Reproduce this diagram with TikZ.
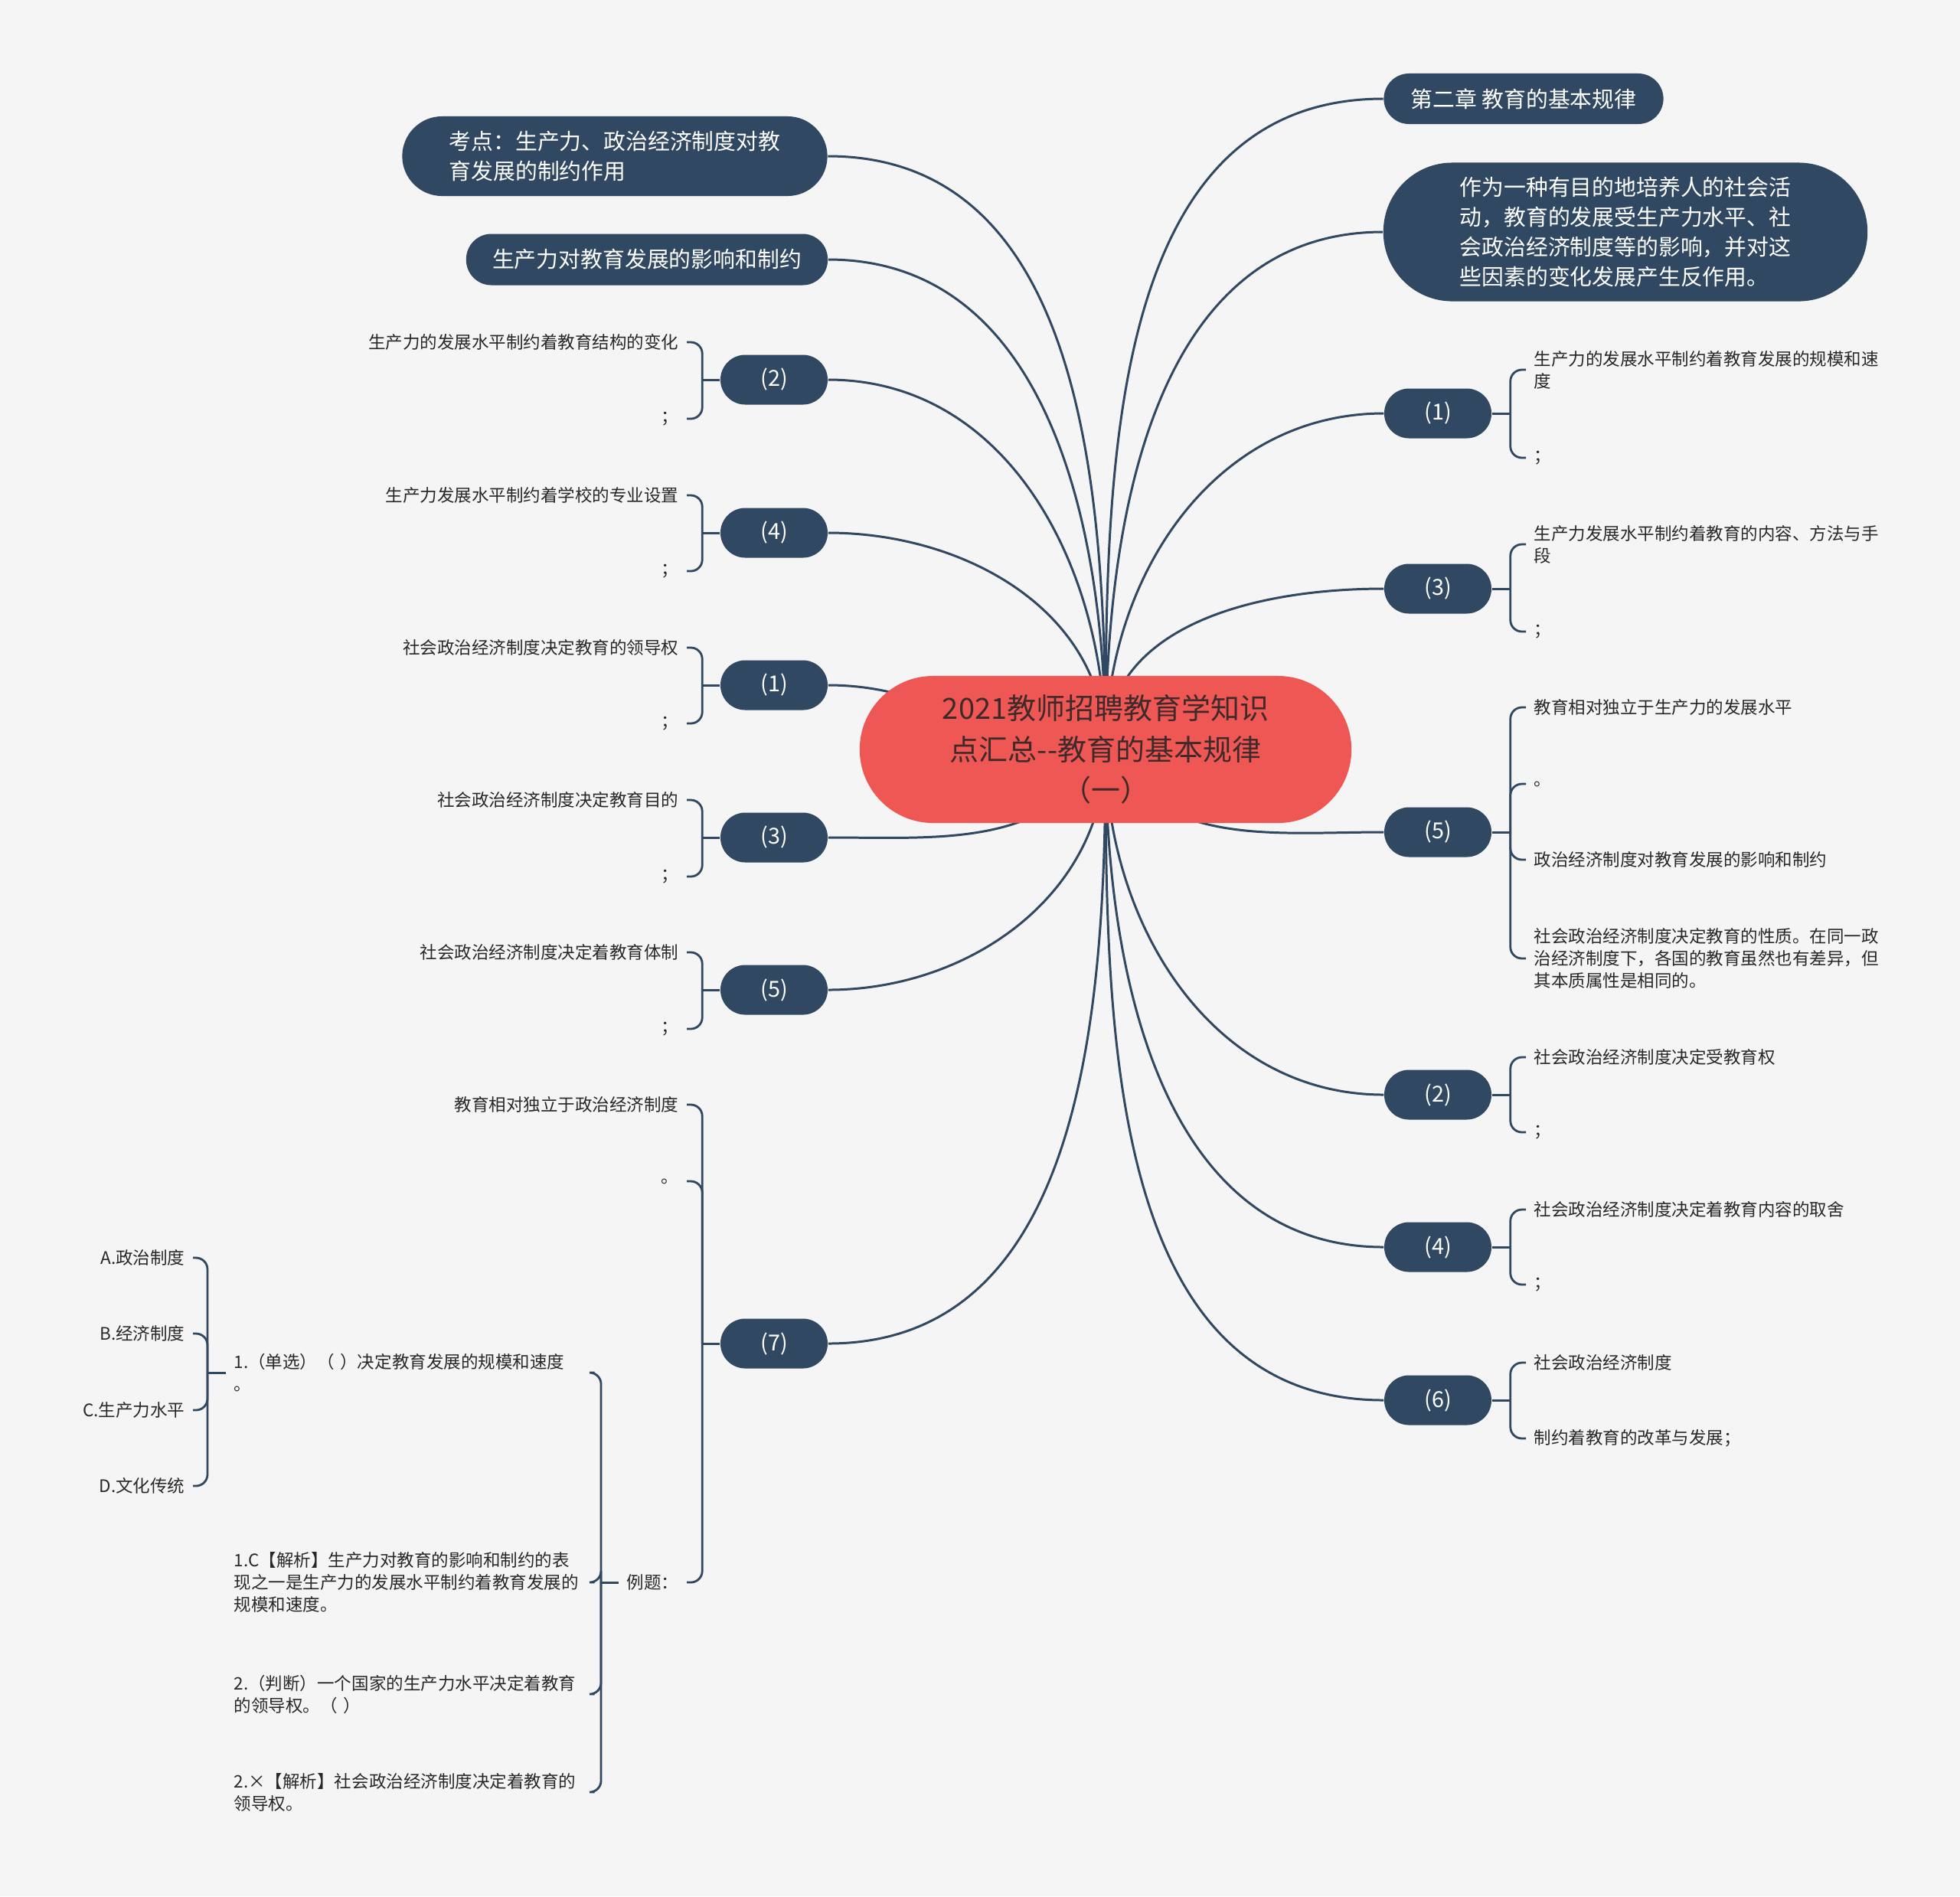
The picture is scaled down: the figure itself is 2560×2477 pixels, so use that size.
\documentclass[tikz,border=0pt]{standalone}
\usepackage{fontspec}
\setmainfont{Noto Sans CJK SC}
\usepackage{xcolor}
\usetikzlibrary{positioning}
\definecolor{mapnavy}{RGB}{48, 72, 97}
\definecolor{maproot}{RGB}{239, 87, 84}
\definecolor{maproottext}{RGB}{62, 42, 42}
\definecolor{mapbg}{RGB}{245, 245, 245}
\definecolor{mapleaf}{RGB}{40, 40, 40}
\pgfdeclarelayer{background}
\pgfsetlayers{background,main}

\begin{document}
\begin{tikzpicture}[
    x=0.01cm, y=0.01cm,
    rootbox/.style={rectangle, fill=maproot, rounded corners=0.96cm,
                    minimum width=6.42cm, minimum height=1.92cm, align=center,
                    text=maproottext, font=\fontsize{10.8}{15.2}\selectfont},
    topicbox/.style={rectangle, fill=mapnavy, text=white, align=left,
                     font=\fontsize{8.2}{11}\selectfont},
    numbox/.style={rectangle, fill=mapnavy, text=white, rounded corners=0.325cm,
                   minimum width=1.4cm, minimum height=0.65cm,
                   font=\fontsize{8.2}{11}\selectfont},
    leaf/.style={inner xsep=0.1cm, inner ysep=0.03cm, text=mapleaf,
                 font=\fontsize{6.4}{8.3}\selectfont},
    rleaf/.style={leaf, anchor=west, align=left},
    lleaf/.style={leaf, anchor=east, align=right},
    exleaf/.style={leaf, anchor=west, text width=4.6cm, align=left},
    branch/.style={draw=mapnavy, line width=0.85pt},
    brace/.style={draw=mapnavy, line width=0.8pt, rounded corners=0.15cm}
]

\begin{pgfonlayer}{background}
\fill[mapbg] (0,0) rectangle (2560,-2477);
\end{pgfonlayer}
\useasboundingbox (0,0) rectangle (2560,-2477);

% Root
\node[rootbox] (root) at (1444,-979) {2021教师招聘教育学知识\\点汇总-{}-教育的基本规律\\（一）};

% Top topics
\node[topicbox, minimum width=3.65cm, minimum height=0.66cm, rounded corners=0.33cm]
    (rt1) at (1990,-129) {第二章 教育的基本规律};
\node[topicbox, minimum width=6.32cm, minimum height=1.81cm, rounded corners=0.9cm]
    (rt2) at (2123,-303) {作为一种有目的地培养人的社会活\\动，教育的发展受生产力水平、社\\会政治经济制度等的影响，并对这\\些因素的变化发展产生反作用。};
\node[topicbox, minimum width=5.55cm, minimum height=1.04cm, rounded corners=0.52cm]
    (lt1) at (803,-204) {考点：生产力、政治经济制度对教\\育发展的制约作用};
\node[topicbox, minimum width=4.72cm, minimum height=0.67cm, rounded corners=0.33cm]
    (lt2) at (845,-339) {生产力对教育发展的影响和制约};

% Right branches
\node[numbox] (r1) at (1878,-540) {(1)};
\node[numbox] (r3) at (1878,-769) {(3)};
\node[numbox] (r5) at (1878,-1087) {(5)};
\node[numbox] (r2) at (1878,-1430) {(2)};
\node[numbox] (r4) at (1878,-1629) {(4)};
\node[numbox] (r6) at (1878,-1829) {(6)};

% Left branches
\node[numbox] (l2) at (1011,-496) {(2)};
\node[numbox] (l4) at (1011,-696) {(4)};
\node[numbox] (l1) at (1011,-895) {(1)};
\node[numbox] (l3) at (1011,-1094) {(3)};
\node[numbox] (l5) at (1011,-1293) {(5)};
\node[numbox] (l7) at (1011,-1755) {(7)};

% Right leaves
\node[rleaf] (r1a) at (1993,-483) {生产力的发展水平制约着教育发展的规模和速\\度};
\node[rleaf] (r1b) at (1993,-598) {；};
\node[rleaf] (r3a) at (1993,-711) {生产力发展水平制约着教育的内容、方法与手\\段};
\node[rleaf] (r3b) at (1993,-825) {；};
\node[rleaf] (r5a) at (1993,-924) {教育相对独立于生产力的发展水平};
\node[rleaf] (r5b) at (1993,-1024) {。};
\node[rleaf] (r5c) at (1993,-1123) {政治经济制度对教育发展的影响和制约};
\node[rleaf] (r5d) at (1993,-1252) {社会政治经济制度决定教育的性质。在同一政\\治经济制度下，各国的教育虽然也有差异，但\\其本质属性是相同的。};
\node[rleaf] (r2a) at (1993,-1381) {社会政治经济制度决定受教育权};
\node[rleaf] (r2b) at (1993,-1479) {；};
\node[rleaf] (r4a) at (1993,-1580) {社会政治经济制度决定着教育内容的取舍};
\node[rleaf] (r4b) at (1993,-1678) {；};
\node[rleaf] (r6a) at (1993,-1780) {社会政治经济制度};
\node[rleaf] (r6b) at (1993,-1879) {制约着教育的改革与发展；};

% Left leaves
\node[lleaf] (l2a) at (897,-447) {生产力的发展水平制约着教育结构的变化};
\node[lleaf] (l2b) at (897,-547) {；};
\node[lleaf] (l4a) at (897,-647) {生产力发展水平制约着学校的专业设置};
\node[lleaf] (l4b) at (897,-746) {；};
\node[lleaf] (l1a) at (897,-846) {社会政治经济制度决定教育的领导权};
\node[lleaf] (l1b) at (897,-945) {；};
\node[lleaf] (l3a) at (897,-1045) {社会政治经济制度决定教育目的};
\node[lleaf] (l3b) at (897,-1145) {；};
\node[lleaf] (l5a) at (897,-1244) {社会政治经济制度决定着教育体制};
\node[lleaf] (l5b) at (897,-1344) {；};
\node[lleaf] (l7a) at (897,-1443) {教育相对独立于政治经济制度};
\node[lleaf] (l7b) at (897,-1543) {。};
\node[lleaf] (l7c) at (897,-2067) {例题：};

% Examples
\node[exleaf] (ex1) at (295,-1793) {1.（单选）（ ）决定教育发展的规模和速度\\。};
\node[exleaf] (ex2) at (295,-2067) {1.C【解析】生产力对教育的影响和制约的表\\现之一是生产力的发展水平制约着教育发展的\\规模和速度。};
\node[exleaf] (ex3) at (295,-2213) {2.（判断）一个国家的生产力水平决定着教育\\的领导权。（ ）};
\node[exleaf] (ex4) at (295,-2341) {2.×【解析】社会政治经济制度决定着教育的\\领导权。};

% Choices
\node[lleaf] (opta) at (252,-1643) {A.政治制度};
\node[lleaf] (optb) at (252,-1742) {B.经济制度};
\node[lleaf] (optc) at (252,-1842) {C.生产力水平};
\node[lleaf] (optd) at (252,-1941) {D.文化传统};

% Bracket joints
\coordinate[right=0.24cm of r1] (r1j);
\coordinate[right=0.24cm of r3] (r3j);
\coordinate[right=0.24cm of r5] (r5j);
\coordinate[right=0.24cm of r2] (r2j);
\coordinate[right=0.24cm of r4] (r4j);
\coordinate[right=0.24cm of r6] (r6j);
\coordinate[left=0.23cm of l2] (l2j);
\coordinate[left=0.23cm of l4] (l4j);
\coordinate[left=0.23cm of l1] (l1j);
\coordinate[left=0.23cm of l3] (l3j);
\coordinate[left=0.23cm of l5] (l5j);
\coordinate[left=0.23cm of l7] (l7j);
\coordinate[left=0.23cm of l7c] (l7cj);
\coordinate[left=0.24cm of ex1] (ex1j);

% Main curves
\begin{pgfonlayer}{background}
\draw[branch] (root.center) to[out=90, in=180] (rt1.west);
\draw[branch] (root.center) to[out=90, in=180] (rt2.west);
\draw[branch] (root.center) to[out=90, in=180] (r1.west);
\draw[branch] (root.center) to[out=90, in=180] (r3.west);
\draw[branch] (root.center) to[out=-60, in=180] (r5.west);
\draw[branch] (root.center) to[out=-90, in=180] (r2.west);
\draw[branch] (root.center) to[out=-90, in=180] (r4.west);
\draw[branch] (root.center) to[out=-90, in=180] (r6.west);
\draw[branch] (root.center) to[out=90, in=0] (lt1.east);
\draw[branch] (root.center) to[out=90, in=0] (lt2.east);
\draw[branch] (root.center) to[out=90, in=0] (l2.east);
\draw[branch] (root.center) to[out=90, in=0] (l4.east);
\draw[branch] (root.center) to[out=180, in=0] (l1.east);
\draw[branch] (root.center) to[out=-120, in=0] (l3.east);
\draw[branch] (root.center) to[out=-90, in=0] (l5.east);
\draw[branch] (root.center) to[out=-90, in=0] (l7.east);
\end{pgfonlayer}

% Stubs
\draw[branch] (r1) -- (r1j);
\draw[branch] (r3) -- (r3j);
\draw[branch] (r5) -- (r5j);
\draw[branch] (r2) -- (r2j);
\draw[branch] (r4) -- (r4j);
\draw[branch] (r6) -- (r6j);
\draw[branch] (l2) -- (l2j);
\draw[branch] (l4) -- (l4j);
\draw[branch] (l1) -- (l1j);
\draw[branch] (l3) -- (l3j);
\draw[branch] (l5) -- (l5j);
\draw[branch] (l7) -- (l7j);
\draw[branch] (l7c) -- (l7cj);
\draw[branch] (ex1) -- (ex1j);

% Brackets
\draw[brace] (r1j) |- (r1a.west);
\draw[brace] (r1j) |- (r1b.west);
\draw[brace] (r3j) |- (r3a.west);
\draw[brace] (r3j) |- (r3b.west);
\draw[brace] (r5j) |- (r5a.west);
\draw[brace] (r5j) |- (r5b.west);
\draw[brace] (r5j) |- (r5c.west);
\draw[brace] (r5j) |- (r5d.west);
\draw[brace] (r2j) |- (r2a.west);
\draw[brace] (r2j) |- (r2b.west);
\draw[brace] (r4j) |- (r4a.west);
\draw[brace] (r4j) |- (r4b.west);
\draw[brace] (r6j) |- (r6a.west);
\draw[brace] (r6j) |- (r6b.west);
\draw[brace] (l2j) |- (l2a.east);
\draw[brace] (l2j) |- (l2b.east);
\draw[brace] (l4j) |- (l4a.east);
\draw[brace] (l4j) |- (l4b.east);
\draw[brace] (l1j) |- (l1a.east);
\draw[brace] (l1j) |- (l1b.east);
\draw[brace] (l3j) |- (l3a.east);
\draw[brace] (l3j) |- (l3b.east);
\draw[brace] (l5j) |- (l5a.east);
\draw[brace] (l5j) |- (l5b.east);
\draw[brace] (l7j) |- (l7a.east);
\draw[brace] (l7j) |- (l7b.east);
\draw[brace] (l7j) |- (l7c.east);
\draw[brace] (l7cj) |- (ex1.east);
\draw[brace] (l7cj) |- (ex2.east);
\draw[brace] (l7cj) |- (ex3.east);
\draw[brace] (l7cj) |- (ex4.east);
\draw[brace] (ex1j) |- (opta.east);
\draw[brace] (ex1j) |- (optb.east);
\draw[brace] (ex1j) |- (optc.east);
\draw[brace] (ex1j) |- (optd.east);

\end{tikzpicture}
\end{document}
